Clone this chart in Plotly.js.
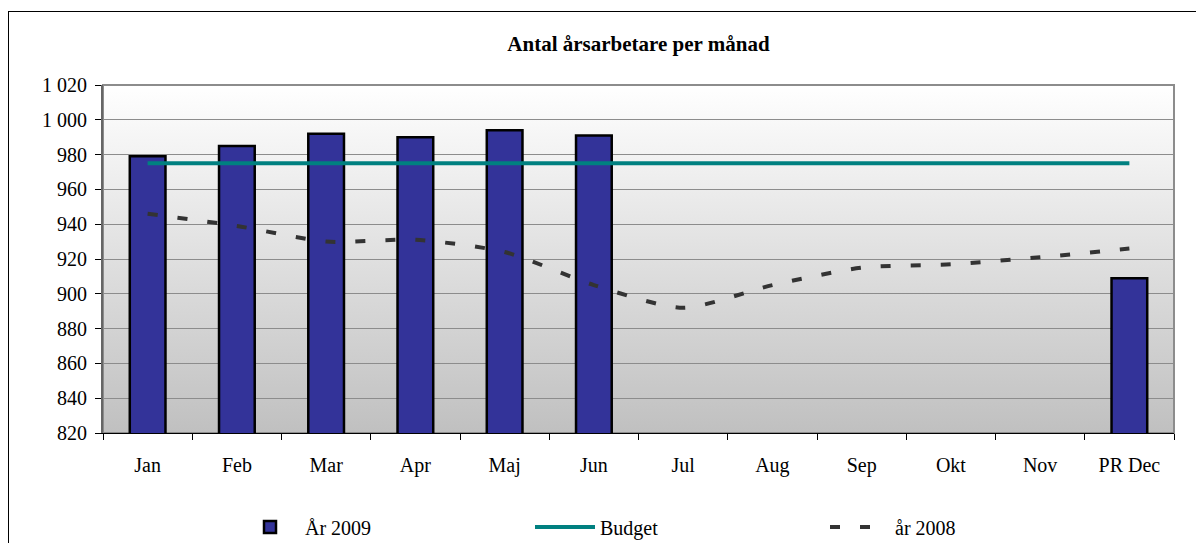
<!DOCTYPE html>
<html>
<head>
<meta charset="utf-8">
<script src="https://cdn.plot.ly/plotly-3.0.1.min.js"></script>
<style>
  html, body { margin: 0; padding: 0; background: #fff; }
  #wrap { position: relative; width: 1196px; height: 543px; overflow: hidden; }
  #chart { position: absolute; left: 0; top: 0; width: 1196px; height: 543px; }
  #frame { position: absolute; left: 8px; top: 11px; width: 1300px; height: 700px; border: 1.5px solid #000; pointer-events: none; }
</style>
</head>
<body>
<div id="wrap">
  <div id="chart"></div>
  <div id="frame"></div>
</div>
<script>
const months = ["Jan", "Feb", "Mar", "Apr", "Maj", "Jun", "Jul", "Aug", "Sep", "Okt", "Nov", "PR Dec"];
const ar2009 = [979, 985, 992, 990, 994, 991, null, null, null, null, null, 909];
const budget = [975, 975, 975, 975, 975, 975, 975, 975, 975, 975, 975, 975];
const ar2008 = [946, 939, 930, 931, 924, 905, 892, 905, 915, 917, 921, 926];
const yTicks = [820, 840, 860, 880, 900, 920, 940, 960, 980, 1000, 1020];

const serif = "'Liberation Serif', 'Times New Roman', serif";

const gradSvg = '<svg xmlns="http://www.w3.org/2000/svg" width="100" height="100" preserveAspectRatio="none">' +
  '<defs><linearGradient id="g" x1="0" y1="0" x2="0" y2="1">' +
  '<stop offset="0" stop-color="#ffffff"/><stop offset="1" stop-color="#c0c0c0"/></linearGradient></defs>' +
  '<rect width="100" height="100" fill="url(#g)"/></svg>';
const gradUri = 'data:image/svg+xml;base64,' + btoa(gradSvg);

const traces = [
  {
    type: 'bar', name: 'År 2009', x: months, y: ar2009, width: 0.4,
    marker: { color: '#333399', line: { color: '#000000', width: 2.5 } }
  },
  {
    type: 'scatter', mode: 'lines', name: 'Budget', x: months, y: budget,
    line: { color: '#008080', width: 4 }
  },
  {
    type: 'scatter', mode: 'lines', name: 'år 2008', x: months, y: ar2008,
    line: { color: '#333333', width: 4, dash: '10px,20px', shape: 'spline', smoothing: 0.7 }
  }
];

const layout = {
  width: 1196, height: 543,
  margin: { l: 103, r: 22, t: 85, b: 110, autoexpand: false },
  paper_bgcolor: 'rgba(0,0,0,0)',
  plot_bgcolor: 'rgba(0,0,0,0)',
  separators: ', ',
  font: { family: serif, color: '#000', size: 20 },
  title: {
    text: '<b>Antal årsarbetare per månad</b>',
    font: { family: serif, size: 21, color: '#000' },
    x: 0.5, xref: 'paper', xanchor: 'center',
    y: 1 - 44 / 543, yref: 'container', yanchor: 'middle'
  },
  showlegend: true,
  legend: {
    orientation: 'h', xref: 'container', x: 235 / 1196, xanchor: 'left',
    yref: 'container', y: 1 - 527 / 543, yanchor: 'middle',
    font: { family: serif, size: 20, color: '#000' },
    entrywidth: 220, entrywidthmode: 'pixels', itemwidth: 60,
    bgcolor: 'rgba(0,0,0,0)', traceorder: 'normal'
  },
  xaxis: {
    type: 'category', categoryorder: 'array', categoryarray: months,
    tickson: 'boundaries', ticks: 'outside', ticklen: 6, tickcolor: '#000', tickwidth: 1,
    showline: true, linecolor: '#000', linewidth: 1, mirror: false,
    showgrid: false, ticklabelstandoff: 14, automargin: false,
    tickfont: { family: serif, size: 20, color: '#000' },
    range: [-0.5, 11.5], fixedrange: true
  },
  yaxis: {
    range: [820, 1020], tickvals: yTicks, separatethousands: true,
    ticks: 'outside', ticklen: 6, tickcolor: '#000', tickwidth: 1,
    showline: true, linecolor: '#666', linewidth: 2, automargin: false,
    showgrid: true, gridcolor: '#8c8c8c', gridwidth: 1, zeroline: false,
    tickfont: { family: serif, size: 20, color: '#000' },
    ticklabelstandoff: 4, fixedrange: true
  },
  shapes: [
    { type: 'rect', xref: 'paper', yref: 'paper', x0: 0, x1: 1, y0: 0, y1: 1,
      line: { color: '#8c8c8c', width: 2 }, fillcolor: 'rgba(0,0,0,0)', layer: 'below' }
  ],
  images: [
    { source: gradUri, xref: 'paper', yref: 'paper', x: 0, y: 1, sizex: 1, sizey: 1,
      sizing: 'stretch', xanchor: 'left', yanchor: 'top', layer: 'below' }
  ]
};

Plotly.newPlot('chart', traces, layout, { displayModeBar: false, staticPlot: true });
</script>
</body>
</html>
